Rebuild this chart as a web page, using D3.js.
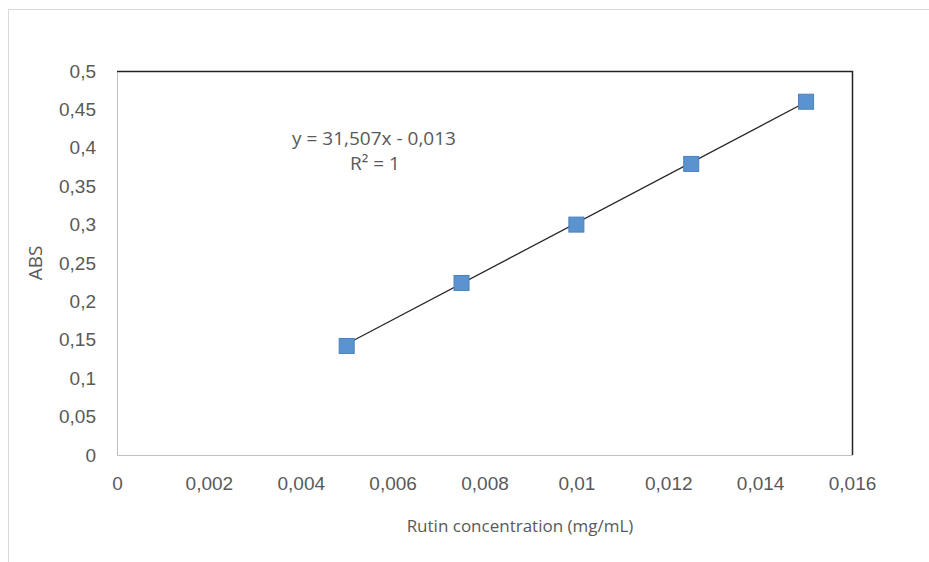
<!DOCTYPE html>
<html lang="en">
<head>
<meta charset="UTF-8">
<title>Rutin calibration</title>
<script src="https://cdn.jsdelivr.net/npm/d3@7"></script>
<style>
  body, html { margin: 0; padding: 0; background: #fff; }
  svg { display: block; font-family: "Open Sans", "Liberation Sans", sans-serif; }
  .tick text { fill: #595959; font-size: 19px; }
</style>
</head>
<body>
<svg width="929" height="562"></svg>
<script>
// calibration points
const concentration = [0.005, 0.0075, 0.01, 0.0125, 0.015];
const absorbance = [0.142, 0.224, 0.300, 0.379, 0.460];
const xTicks = [0, 0.002, 0.004, 0.006, 0.008, 0.01, 0.012, 0.014, 0.016];
const yTicks = [0, 0.05, 0.1, 0.15, 0.2, 0.25, 0.3, 0.35, 0.4, 0.45, 0.5];
const slope = 31.507, intercept = -0.013;

const svg = d3.select("svg");
const margin = {top: 71, right: 77, bottom: 107, left: 117};
const width = 929 - margin.left - margin.right;
const height = 562 - margin.top - margin.bottom;

// outer chart frame (only top/left edges visible in the crop)
svg.append("path")
    .attr("d", "M8.5,562 L8.5,9.5 L929,9.5")
    .attr("fill", "none")
    .attr("stroke", "#d9d9d9");

const g = svg.append("g").attr("transform", `translate(${margin.left},${margin.top})`);

const x = d3.scaleLinear().domain([0, 0.016]).range([0, width]);
const y = d3.scaleLinear().domain([0, 0.5]).range([height, 0]);
const comma = d => d3.format("")(+d.toFixed(4)).replace(".", ",");

// x axis
const xAxis = g.append("g")
    .attr("transform", `translate(0,${height})`)
    .call(d3.axisBottom(x).tickValues(xTicks).tickSize(0).tickPadding(22).tickFormat(comma));
xAxis.select(".domain").attr("stroke", "#bfbfbf");

// y axis
const yAxis = g.append("g")
    .call(d3.axisLeft(y).tickValues(yTicks).tickSize(0).tickPadding(21).tickFormat(comma));
yAxis.select(".domain").attr("stroke", "#bfbfbf");

// top and right border of plot area
g.append("path")
    .attr("d", `M0,0.5 L${width + 0.5},0.5 L${width + 0.5},${height}`)
    .attr("fill", "none")
    .attr("stroke", "#222")
    .attr("stroke-width", 1.5);

// trendline
const x0 = d3.min(concentration), x1 = d3.max(concentration);
g.append("line")
    .attr("x1", x(x0)).attr("y1", y(slope * x0 + intercept))
    .attr("x2", x(x1)).attr("y2", y(slope * x1 + intercept))
    .attr("stroke", "#262626")
    .attr("stroke-width", 1.3);

// markers
g.selectAll(".pt")
    .data(concentration)
    .enter().append("rect")
    .attr("class", "pt")
    .attr("x", (d) => x(d) - 7.5)
    .attr("y", (d, i) => y(absorbance[i]) - 7.5)
    .attr("width", 15)
    .attr("height", 15)
    .attr("fill", "#5b93d0")
    .attr("stroke", "#4a80bd")
    .attr("stroke-width", 1);

// equation labels
g.append("text")
    .attr("x", 257).attr("y", 74)
    .attr("text-anchor", "middle")
    .attr("fill", "#595959")
    .style("font-size", "19px")
    .text("y = 31,507x - 0,013");
g.append("text")
    .attr("x", 258).attr("y", 99)
    .attr("text-anchor", "middle")
    .attr("fill", "#595959")
    .style("font-size", "19px")
    .text("R² = 1");

// axis titles
svg.append("text")
    .attr("x", 520)
    .attr("y", 532)
    .attr("text-anchor", "middle")
    .attr("fill", "#595959")
    .style("font-size", "17px")
    .text("Rutin concentration (mg/mL)");
svg.append("text")
    .attr("transform", `translate(42,${margin.top + height / 2}) rotate(-90)`)
    .attr("text-anchor", "middle")
    .attr("fill", "#595959")
    .style("font-size", "19px")
    .text("ABS");
</script>
</body>
</html>
